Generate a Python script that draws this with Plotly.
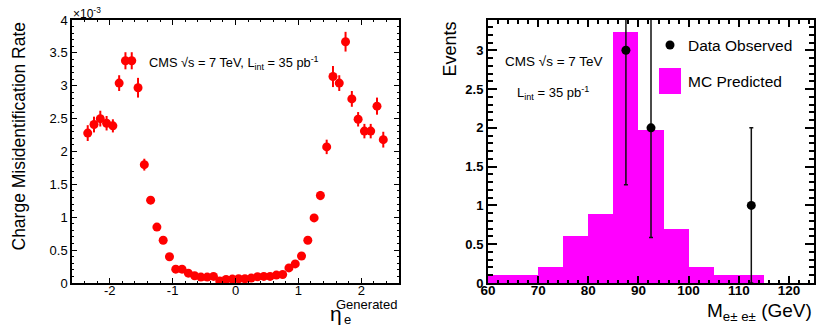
import plotly.graph_objects as go

# ---------------- Left panel data (rate in units of 1e-3) ----------------
eta_centers = [-2.35, -2.25, -2.15, -2.05, -1.95, -1.85, -1.75, -1.65, -1.55, -1.45,
               -1.35, -1.25, -1.15, -1.05, -0.95, -0.85, -0.75, -0.65, -0.55, -0.45,
               -0.35, -0.25, -0.15, -0.05, 0.05, 0.15, 0.25, 0.35, 0.45, 0.55,
               0.65, 0.75, 0.85, 0.95, 1.05, 1.15, 1.25, 1.35, 1.45, 1.55,
               1.65, 1.75, 1.85, 1.95, 2.05, 2.15, 2.25, 2.35]
misid_rate = [2.28, 2.41, 2.50, 2.43, 2.39, 3.04, 3.38, 3.38, 2.97, 1.80,
              1.26, 0.85, 0.65, 0.40, 0.21, 0.21, 0.15, 0.11, 0.09, 0.09,
              0.10, 0.03, 0.055, 0.06, 0.065, 0.065, 0.075, 0.095, 0.10, 0.10,
              0.12, 0.13, 0.23, 0.29, 0.41, 0.65, 0.99, 1.33, 2.07, 3.14,
              3.04, 3.67, 2.80, 2.49, 2.31, 2.31, 2.69, 2.18]
misid_err = [0.12, 0.12, 0.12, 0.11, 0.10, 0.12, 0.13, 0.13, 0.15, 0.09,
             0.06, 0.05, 0.04, 0.03, 0.02, 0.02, 0.02, 0.015, 0.015, 0.015,
             0.015, 0.01, 0.01, 0.01, 0.01, 0.01, 0.01, 0.015, 0.015, 0.015,
             0.015, 0.02, 0.03, 0.03, 0.04, 0.05, 0.06, 0.07, 0.11, 0.16,
             0.12, 0.15, 0.12, 0.11, 0.11, 0.11, 0.13, 0.12]
left_xticks = [-2, -1, 0, 1, 2]
left_xticklabels = ["-2", "-1", "0", "1", "2"]
left_yticks = [0, 0.5, 1, 1.5, 2, 2.5, 3, 3.5, 4]
left_yticklabels = ["0", "0.5", "1", "1.5", "2", "2.5", "3", "3.5", "4"]

# ---------------- Right panel data ----------------
mass_bin_centers = [62.5, 67.5, 72.5, 77.5, 82.5, 87.5, 92.5, 97.5, 102.5, 107.5, 112.5, 117.5, 122.5]
mc_predicted = [0.10, 0.10, 0.20, 0.60, 0.89, 3.24, 1.97, 0.69, 0.20, 0.10, 0.10, 0.0, 0.0]
data_mass = [87.5, 92.5, 112.5]
data_events = [3, 2, 1]
data_err = [1.732, 1.414, 1.0]
right_xticks = [60, 70, 80, 90, 100, 110, 120]
right_xticklabels = ["60", "70", "80", "90", "100", "110", "120"]
right_yticks = [0, 0.5, 1, 1.5, 2, 2.5, 3]
right_yticklabels = ["0", "0.5", "1", "1.5", "2", "2.5", "3"]

W, H = 830, 328
FONT = "Liberation Sans, Arial, Helvetica, sans-serif"


def px(x):
    return x / W


def py(y):
    return 1 - y / H


fig = go.Figure()

fig.add_trace(go.Bar(
    x=mass_bin_centers, y=mc_predicted, width=5,
    marker=dict(color="#ff00ff", line=dict(width=0)),
    xaxis="x2", yaxis="y2", showlegend=False,
))

fig.add_trace(go.Scatter(
    x=eta_centers, y=misid_rate, mode="markers",
    marker=dict(color="#ff0000", size=9, line=dict(width=0)),
    error_y=dict(type="data", array=misid_err, color="#ff0000", thickness=2, width=0),
    xaxis="x", yaxis="y", showlegend=False,
))

fig.add_trace(go.Scatter(
    x=data_mass, y=data_events, mode="markers",
    marker=dict(color="#000000", size=9),
    error_y=dict(type="data", array=data_err, color="#111111", thickness=1.5, width=2),
    xaxis="x2", yaxis="y2", showlegend=False,
))

x1d = [px(72), px(399)]
x2d = [px(488), px(814)]
yd = [py(283), py(20)]

common = dict(showgrid=False, zeroline=False, ticks="inside", mirror="allticks",
              showline=True, linecolor="black", tickcolor="black", automargin=False)

fig.update_layout(
    width=W, height=H,
    margin=dict(l=0, r=0, t=0, b=0, pad=0, autoexpand=False),
    paper_bgcolor="white", plot_bgcolor="white",
    font=dict(family=FONT, color="black"),
    bargap=0,
    showlegend=False,
    xaxis=dict(domain=x1d, range=[-2.6, 2.6], anchor="y",
               tickvals=left_xticks, ticktext=left_xticklabels,
               ticklen=5, tickwidth=1, linewidth=1.5, ticklabelstandoff=-5,
               minor=dict(dtick=0.2, tick0=0, ticklen=2.5, ticks="inside", tickcolor="black"),
               tickfont=dict(size=13), **common),
    yaxis=dict(domain=yd, range=[0, 4], anchor="x",
               tickvals=left_yticks, ticktext=left_yticklabels,
               ticklen=5, tickwidth=1, linewidth=1.5,
               minor=dict(dtick=0.1, tick0=0, ticklen=2.5, ticks="inside", tickcolor="black"),
               tickfont=dict(size=13), **common),
    xaxis2=dict(domain=x2d, range=[60, 125], anchor="y2",
                tickvals=right_xticks, ticktext=["<b>%s</b>" % t for t in right_xticklabels],
                ticklen=7, tickwidth=1.5, linewidth=2, ticklabelstandoff=-6,
                minor=dict(dtick=2, tick0=60, ticklen=3.5, ticks="inside", tickcolor="black"),
                tickfont=dict(size=13.5), **common),
    yaxis2=dict(domain=yd, range=[0, 3.39], anchor="x2",
                tickvals=right_yticks, ticktext=["<b>%s</b>" % t for t in right_yticklabels],
                ticklen=9, tickwidth=1.5, linewidth=2,
                minor=dict(dtick=0.1, tick0=0, ticklen=5, ticks="inside", tickcolor="black"),
                tickfont=dict(size=13), **common),
)

ann = []
# Left panel texts
ann.append(dict(x=px(18), y=py(20), text="Charge Misidentification Rate", textangle=-90,
                xanchor="center", yanchor="top", font=dict(size=17.5)))
ann.append(dict(x=px(71), y=py(13), text="×10<sup>-3</sup>", xanchor="left", yanchor="middle",
                font=dict(size=12)))
ann.append(dict(x=px(147), y=py(63), text="CMS √s = 7 TeV, L<sub>int</sub> = 35 pb<sup>-1</sup>",
                xanchor="left", yanchor="middle", font=dict(size=12.8)))
ann.append(dict(x=px(344), y=py(313), text="η", xanchor="right", yanchor="middle",
                font=dict(size=21)))
ann.append(dict(x=px(399), y=py(304), text="Generated", xanchor="right", yanchor="middle",
                font=dict(size=13)))
ann.append(dict(x=px(342), y=py(319), text="e", xanchor="left", yanchor="middle",
                font=dict(size=13)))
# Right panel texts
ann.append(dict(x=px(449), y=py(20), text="Events", textangle=-90,
                xanchor="center", yanchor="top", font=dict(size=18)))
ann.append(dict(x=px(503), y=py(62), text="CMS √s = 7 TeV", xanchor="left", yanchor="middle",
                font=dict(size=13.5)))
ann.append(dict(x=px(515), y=py(93), text="L<sub>int</sub> = 35 pb<sup>-1</sup>",
                xanchor="left", yanchor="middle", font=dict(size=13)))
ann.append(dict(x=px(686), y=py(45), text="Data Observed", xanchor="left", yanchor="middle",
                font=dict(size=15.5)))
ann.append(dict(x=px(686), y=py(81), text="MC Predicted", xanchor="left", yanchor="middle",
                font=dict(size=15.5)))
ann.append(dict(x=px(814), y=py(312), text="M<sub>e± e±</sub> (GeV)", xanchor="right",
                yanchor="middle", font=dict(size=19)))
for a in ann:
    a.update(xref="paper", yref="paper", showarrow=False)
fig.update_layout(annotations=ann)

fig.update_layout(shapes=[
    dict(type="circle", xref="paper", yref="paper",
         x0=px(665.5), x1=px(674.5), y0=py(49.5), y1=py(40.5),
         fillcolor="black", line=dict(width=0)),
    dict(type="rect", xref="paper", yref="paper",
         x0=px(659), x1=px(681), y0=py(94), y1=py(68),
         fillcolor="#ff00ff", line=dict(width=0)),
])

fig.write_html(
    "out.html",
    config={"displayModeBar": False},
    post_script="document.body.style.margin='0';document.body.style.padding='0';"
                "document.documentElement.style.overflow='hidden';",
)
